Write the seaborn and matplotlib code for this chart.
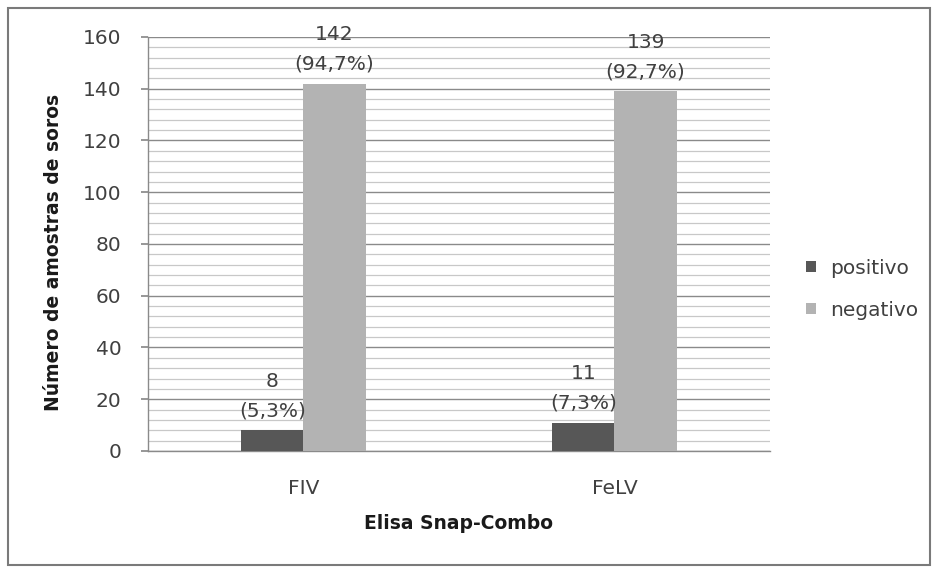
import matplotlib
matplotlib.use("Agg")
import matplotlib.pyplot as plt
import seaborn as sns
import pandas as pd
import numpy as np
from matplotlib.patches import Rectangle

# Data
categories = ["FIV", "FeLV"]
series = ["positivo", "negativo"]
positivo = [8, 11]
negativo = [142, 139]
pct_positivo = ["5,3%", "7,3%"]
pct_negativo = ["94,7%", "92,7%"]

df = pd.DataFrame({
    "teste": categories * 2,
    "resultado": [series[0]] * 2 + [series[1]] * 2,
    "n": positivo + negativo,
    "pct": pct_positivo + pct_negativo,
})

sns.set_theme(style="white")
plt.rcParams["font.family"] = ["DejaVu Sans"]

FS = 14.5      # regular text size
FS_B = 13.5    # bold axis titles

fig = plt.figure(figsize=(9.33, 5.68), dpi=100)
ax = fig.add_axes([0.1586, 0.206, 0.6667, 0.7289])

palette = {"positivo": "#575757", "negativo": "#b3b3b3"}
sns.barplot(data=df, x="teste", y="n", hue="resultado", order=categories,
            hue_order=series, palette=palette, width=0.4, saturation=1,
            ax=ax, zorder=3, edgecolor="none")

ax.set_xlim(-0.5, 1.5)
ax.set_ylim(0, 160)
ax.set_yticks(np.arange(0, 161, 20))
ax.set_yticks(np.arange(0, 161, 4), minor=True)
ax.grid(axis="y", which="major", color="#8a8a8a", lw=1.0, zorder=0)
ax.grid(axis="y", which="minor", color="#c8c8c8", lw=0.9, zorder=0)
ax.tick_params(axis="y", which="major", length=5, color="#8a8a8a",
               labelsize=FS, labelcolor="#404040", left=True, pad=14)
ax.tick_params(axis="y", which="minor", length=0)
ax.tick_params(axis="x", length=0, labelsize=FS, labelcolor="#404040", pad=20)

for s in ["top", "right"]:
    ax.spines[s].set_visible(False)
for s in ["left", "bottom"]:
    ax.spines[s].set_color("#8a8a8a")
    ax.spines[s].set_linewidth(1.0)

ax.set_xlabel("Elisa Snap-Combo", fontsize=FS_B, fontweight="bold",
              color="#1a1a1a", labelpad=12)
ax.set_ylabel("Número de amostras de soros", fontsize=FS_B, fontweight="bold",
              color="#1a1a1a")
ax.yaxis.set_label_coords(-0.137, 0.48)

# Value labels above each bar
for container, res in zip(ax.containers, series):
    sub = df[df["resultado"] == res].set_index("teste").loc[categories]
    labels = [f"{v}\n({p})" for v, p in zip(sub["n"], sub["pct"])]
    ax.bar_label(container, labels=labels, padding=7, fontsize=FS,
                 color="#404040", linespacing=1.7)

# Legend
handles, labels = ax.get_legend_handles_labels()
leg = ax.legend(handles, labels, loc="center left", bbox_to_anchor=(1.058, 0.391),
                frameon=False, fontsize=FS, handlelength=0.48, handleheight=0.48,
                handletextpad=0.7, labelspacing=1.15, borderpad=0,
                borderaxespad=0)
for t in leg.get_texts():
    t.set_color("#404040")

# Outer chart border
fig.patches.append(Rectangle((0.009, 0.006), 0.988, 0.98, transform=fig.transFigure,
                             fill=False, edgecolor="#7a7a7a", lw=1.5, zorder=10))

fig.savefig("out.png", dpi=100, facecolor="white")
